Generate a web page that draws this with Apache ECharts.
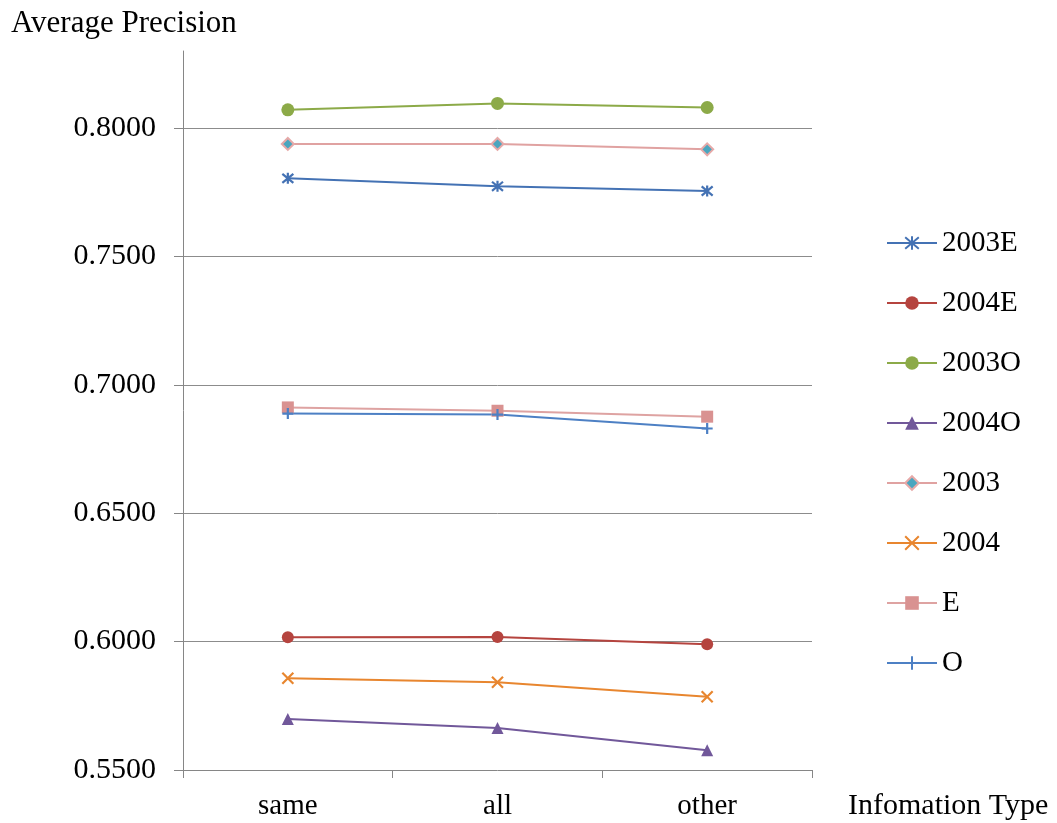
<!DOCTYPE html>
<html>
<head>
<meta charset="utf-8">
<title>Average Precision by Information Type</title>
<script src="https://cdn.jsdelivr.net/npm/echarts@6/dist/echarts.min.js"></script>
<style>
  html, body { margin: 0; padding: 0; background: #ffffff; }
  #chart { width: 1057px; height: 823px; }
</style>
</head>
<body>
<div id="chart"></div>
<script>
// Information types on the x axis
const categories = ['same', 'all', 'other'];

// Average precision per run
const ap2003E = [0.7804, 0.7773, 0.7755];
const ap2004E = [0.6017, 0.6018, 0.5990];
const ap2003O = [0.8071, 0.8096, 0.8080];
const ap2004O = [0.5699, 0.5664, 0.5577];
const ap2003  = [0.7938, 0.7938, 0.7917];
const ap2004  = [0.5857, 0.5842, 0.5785];
const apE     = [0.6912, 0.6899, 0.6876];
const apO     = [0.6888, 0.6884, 0.6830];

// Value axis range
const yMin = 0.55;
const yMax = 0.83;
const yStep = 0.05;

const FONT = '"Liberation Serif", "DejaVu Serif", serif';

const ASTERISK = 'path://M0 0L10 10M10 0L0 10M5 -1L5 11';
const CROSS = 'path://M0 0L10 10M10 0L0 10';
const PLUS = 'path://M5 0L5 10M0 5L10 5';

function lineSeries(name, data, color, symbol, opts) {
  opts = opts || {};
  const stroked = symbol.indexOf('path://') === 0;
  return {
    name: name,
    type: 'line',
    data: data,
    symbol: symbol,
    symbolSize: opts.size || 12,
    showAllSymbol: true,
    lineStyle: { color: color, width: 2 },
    itemStyle: stroked
      ? { color: color, borderColor: opts.markColor || color, borderWidth: 2.2 }
      : { color: opts.fill || color, borderColor: opts.markColor || color, borderWidth: opts.border || 0 },
    emphasis: { disabled: true },
    z: opts.z || 2
  };
}

const chart = echarts.init(document.getElementById('chart'), null, { renderer: 'canvas' });

chart.setOption({
  animation: false,
  backgroundColor: '#ffffff',
  textStyle: { fontFamily: FONT },
  title: {
    text: 'Average Precision',
    left: 6,
    top: 3,
    textStyle: { fontFamily: FONT, fontSize: 31, fontWeight: 'normal', color: '#000' }
  },
  grid: { left: 183, right: 245, top: 51, bottom: 53, containLabel: false },
  legend: {
    orient: 'vertical',
    left: 886,
    top: 228,
    padding: 0,
    itemWidth: 50,
    itemHeight: 17,
    itemGap: 30,
    textStyle: { fontFamily: FONT, fontSize: 29, color: '#000', lineHeight: 30 },
    data: ['2003E', '2004E', '2003O', '2004O', '2003', '2004', 'E', 'O']
  },
  xAxis: {
    type: 'category',
    data: categories,
    boundaryGap: true,
    name: 'Infomation Type',
    nameLocation: 'end',
    nameGap: 36,
    nameTextStyle: {
      fontFamily: FONT, fontSize: 30, color: '#000',
      align: 'left', verticalAlign: 'top', padding: [21, 0, 0, 0]
    },
    axisLine: { lineStyle: { color: '#868686', width: 1 } },
    axisTick: { show: true, length: 8, alignWithLabel: false, lineStyle: { color: '#868686' } },
    axisLabel: { fontFamily: FONT, fontSize: 29, color: '#000', margin: 22 },
    splitLine: { show: false }
  },
  yAxis: {
    type: 'value',
    min: yMin,
    max: yMax,
    interval: yStep,
    axisLine: { show: true, lineStyle: { color: '#868686', width: 1 } },
    axisTick: { show: true, length: 9, lineStyle: { color: '#868686', width: 1 } },
    axisLabel: {
      fontFamily: FONT, fontSize: 30, color: '#000', margin: 27,
      showMaxLabel: false,
      formatter: function (v) { return v.toFixed(4); }
    },
    splitLine: { show: true, showMaxLine: false, showMinLine: false, lineStyle: { color: '#8c8c8c', width: 1 } }
  },
  series: [
    lineSeries('2003E', ap2003E, '#4472b4', ASTERISK, { size: 11 }),
    lineSeries('2004E', ap2004E, '#b5443f', 'circle', { size: 12 }),
    lineSeries('2003O', ap2003O, '#8caa48', 'circle', { size: 13 }),
    lineSeries('2004O', ap2004O, '#71589a', 'triangle', { size: 12 }),
    lineSeries('2003', ap2003, '#e0a2a1', 'diamond', { size: 12, fill: '#4aa6bf', markColor: '#e6a9a8', border: 2 }),
    lineSeries('2004', ap2004, '#e8862f', CROSS, { size: 11 }),
    lineSeries('E', apE, '#dea3a2', 'rect', { size: 12, fill: '#d99291' }),
    lineSeries('O', apO, '#4d80c4', PLUS, { size: 11 })
  ]
});
</script>
</body>
</html>
